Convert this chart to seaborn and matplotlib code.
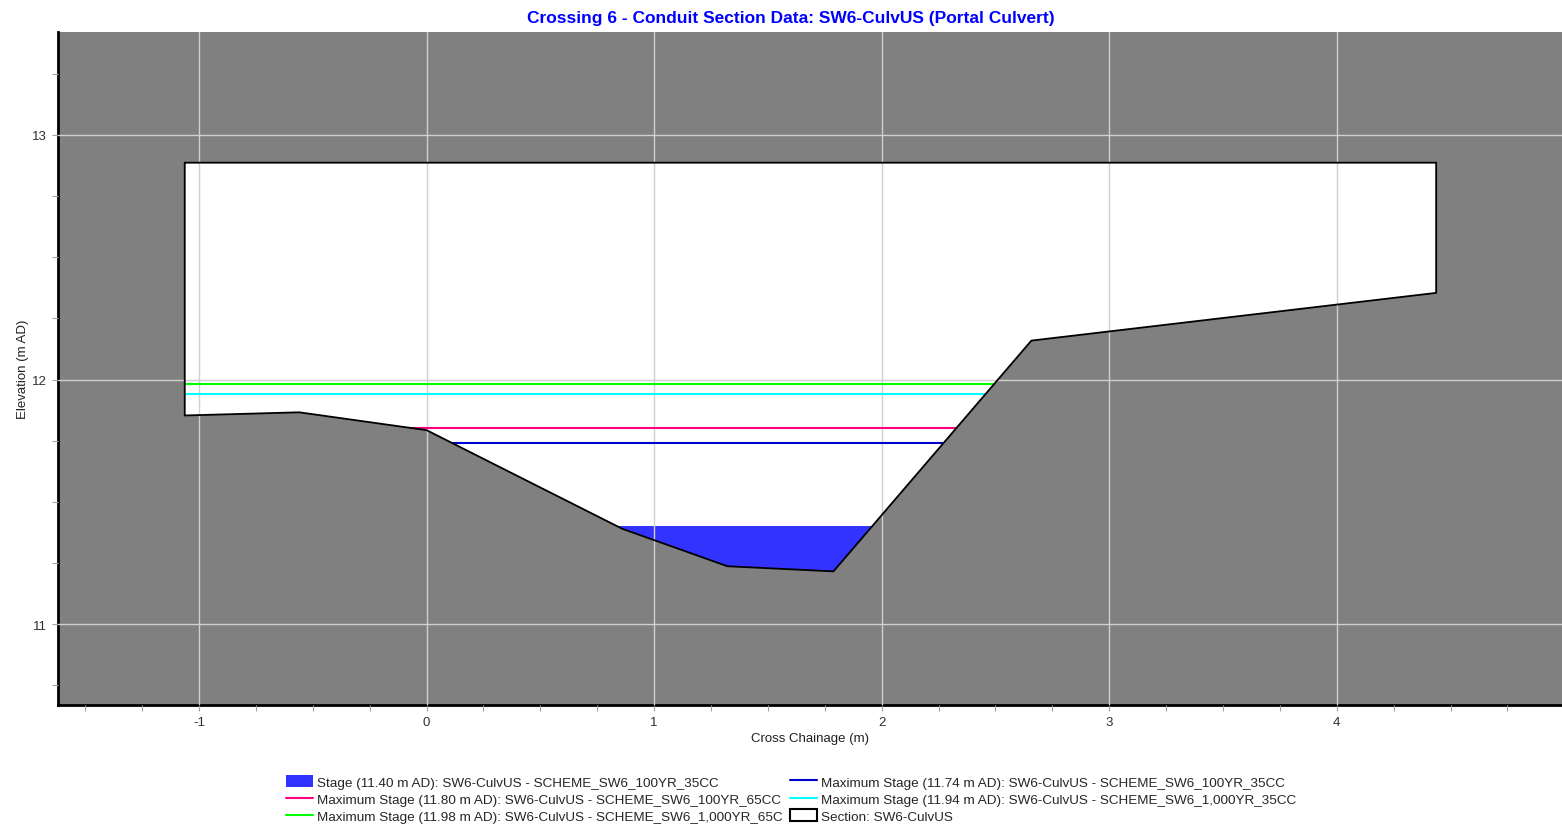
import numpy as np
import matplotlib
matplotlib.use("Agg")
import matplotlib.pyplot as plt
import seaborn as sns
from matplotlib.patches import Polygon, Patch
from matplotlib.lines import Line2D
from matplotlib.ticker import MultipleLocator

# Conduit section geometry (chainage m, elevation m AD), closed outline
section_x = [-1.063, -1.063, -0.56, 0.0, 0.86, 1.322, 1.788, 2.658, 4.437, 4.437]
section_y = [12.886, 11.853, 11.866, 11.793, 11.39, 11.237, 11.216, 12.159, 12.354, 12.886]
section_name = "SW6-CulvUS"

# Current stage
stage_level = 11.40
stage_run = "SCHEME_SW6_100YR_35CC"

# Maximum stages per run
max_levels = [11.74, 11.80, 11.94, 11.98]
max_runs = ["SCHEME_SW6_100YR_35CC", "SCHEME_SW6_100YR_65CC",
            "SCHEME_SW6_1,000YR_35CC", "SCHEME_SW6_1,000YR_65C"]

# colours
max_colors = ["#0000cd", "#ff0080", "#00ffff", "#00ff00"]
stage_color = "#3333ff"

sns.set_theme(style="white")
plt.rcParams['font.family'] = ['Liberation Sans', 'DejaVu Sans']
plt.rcParams['axes.unicode_minus'] = False

W, H = 1562, 837
fig = plt.figure(figsize=(W / 100, H / 100), dpi=100)
ax = fig.add_axes([58 / W, 1 - 706 / H, 1 - 58 / W, (706 - 33) / H])
ax.set_facecolor("#808080")

# white section interior
sec = Polygon(np.column_stack([section_x, section_y]), closed=True,
              facecolor="white", edgecolor="none", zorder=1)
ax.add_patch(sec)

xs = [min(section_x), max(section_x)]

# water at current stage, clipped to the section
fill = ax.fill_between(xs, min(section_y), stage_level, color=stage_color, lw=0, zorder=1.5)
fill.set_clip_path(sec)

# maximum stage lines, clipped to the section
for lvl, col in zip(max_levels, max_colors):
    sns.lineplot(x=xs, y=[lvl, lvl], color=col, lw=1.5, ax=ax, zorder=3)
    ax.lines[-1].set_clip_path(sec)

# section outline
sns.lineplot(x=section_x + [section_x[0]], y=section_y + [section_y[0]],
             sort=False, estimator=None, color="black", lw=1.3, ax=ax, zorder=4)

ax.set_xlim(-1.62, 4.99)
ax.set_ylim(10.67, 13.42)
ax.xaxis.set_major_locator(MultipleLocator(1))
ax.xaxis.set_minor_locator(MultipleLocator(0.25))
ax.yaxis.set_major_locator(MultipleLocator(1))
ax.yaxis.set_minor_locator(MultipleLocator(0.25))
ax.tick_params(which="both", bottom=True, left=True, direction="out", length=4,
               width=0.8, color="#a0a0a0", labelsize=9.5, labelcolor="#303030", pad=4)
ax.set_axisbelow(False)
ax.grid(True, which="major", color="#d0d0d0", lw=1.0)

for s in ["top", "right"]:
    ax.spines[s].set_visible(False)
for s in ["left", "bottom"]:
    ax.spines[s].set_color("black")
    ax.spines[s].set_linewidth(2)

ax.set_xlabel("Cross Chainage (m)", fontsize=9.5, color="#202020", labelpad=3)
ax.set_ylabel("Elevation (m AD)", fontsize=9.5, color="#202020", labelpad=2)

fig.text(791 / W, 1 - 19 / H, "Crossing 6 - Conduit Section Data: SW6-CulvUS (Portal Culvert)",
         ha="center", va="center", color="#0000ff", fontweight="bold", fontsize=12.5)

# legend, row-major like the original
handles = [Patch(facecolor=stage_color, edgecolor="none")]
labels = [f"Stage ({stage_level:.2f} m AD): {section_name} - {stage_run}"]
for lvl, run, col in zip(max_levels, max_runs, max_colors):
    handles.append(Line2D([], [], color=col, lw=1.5))
    labels.append(f"Maximum Stage ({lvl:.2f} m AD): {section_name} - {run}")
handles.append(Patch(facecolor="white", edgecolor="black", lw=1.5))
labels.append(f"Section: {section_name}")

handles = handles[0::2] + handles[1::2]
labels = labels[0::2] + labels[1::2]
fig.legend(handles, labels, loc="center", bbox_to_anchor=(791 / W, 1 - 800 / H), ncol=2,
           frameon=False, fontsize=9.7, handlelength=2.0, handleheight=1.0, handletextpad=0.3,
           columnspacing=0.6, labelspacing=0.25)

fig.savefig("out.png", dpi=100, facecolor="white")
